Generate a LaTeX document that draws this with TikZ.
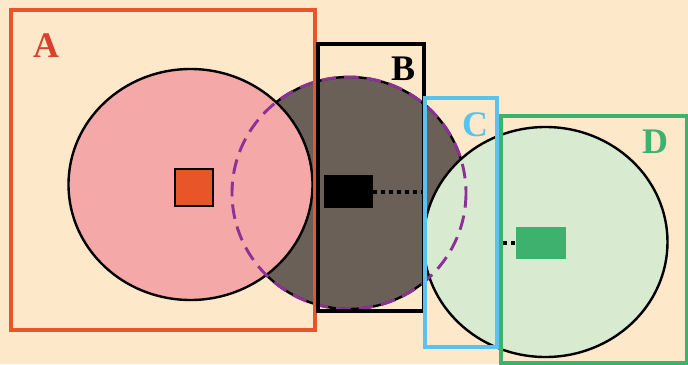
\documentclass[tikz,border=0pt]{standalone}
\usepackage{fontspec}
\setmainfont{Liberation Serif}

\definecolor{paper}{RGB}{253,233,201}
\definecolor{boxA}{RGB}{232,85,40}
\definecolor{diskA}{RGB}{244,168,168}
\definecolor{diskB}{RGB}{106,96,87}
\definecolor{boxC}{RGB}{88,196,236}
\definecolor{boxD}{RGB}{60,178,110}
\definecolor{diskD}{RGB}{216,235,208}
\definecolor{ring}{RGB}{140,50,150}
\definecolor{tagA}{RGB}{215,65,45}

\begin{document}
\begin{tikzpicture}[x=0.75pt, y=-0.75pt,
    frame/.style={line width=3pt},
    disk/.style={draw=black, line width=1.8pt},
    block/.style={inner sep=0pt, outer sep=0pt},
    tag/.style={font=\fontsize{27}{27}\selectfont\bfseries},
    link/.style={line width=3pt, dash pattern=on 3pt off 3pt}]
    \useasboundingbox[fill=paper] (0,0) rectangle (688,364);

    % disks
    \filldraw[disk, fill=diskB] (349,193) ellipse [x radius=117, y radius=116];
    \filldraw[disk, fill=diskA] (190.5,184.5) ellipse [x radius=122, y radius=115.5];
    \filldraw[disk, fill=diskD] (545.5,242) ellipse [x radius=122, y radius=115];
    \draw[ring, line width=2.2pt, dash pattern=on 11pt off 6pt]
        (349,193) ellipse [x radius=117, y radius=116];

    % blocks
    \node[block, draw=black, line width=1.5pt, fill=boxA,
          minimum width=28.5pt, minimum height=27.75pt] (sqA) at (194,187.5) {};
    \node[block, fill=black,
          minimum width=36.75pt, minimum height=24.75pt] (sqB) at (348.5,191.5) {};
    \node[block, fill=boxD,
          minimum width=37.5pt, minimum height=24pt] (sqD) at (541,243) {};

    \coordinate (edgeB) at (423,191.5);
    \coordinate (edgeD) at (503,243);
    \draw[link] (sqB.east) -- (edgeB);
    \draw[link] (edgeD) -- (sqD.west);

    % frames
    \draw[frame, draw=boxA] (11,10) rectangle (315,330);
    \draw[frame, draw=black] (318,44) rectangle (424,311);
    \draw[frame, draw=boxC] (425,98) rectangle (497,347);
    \draw[frame, draw=boxD] (501,116) rectangle (687,363);

    % labels
    \node[tag, text=tagA] (labA) at (46,46) {A};
    \node[tag, text=black] (labB) at (403,69) {B};
    \node[tag, text=boxC] (labC) at (475,125) {C};
    \node[tag, text=boxD] (labD) at (655,142) {D};
\end{tikzpicture}
\end{document}
